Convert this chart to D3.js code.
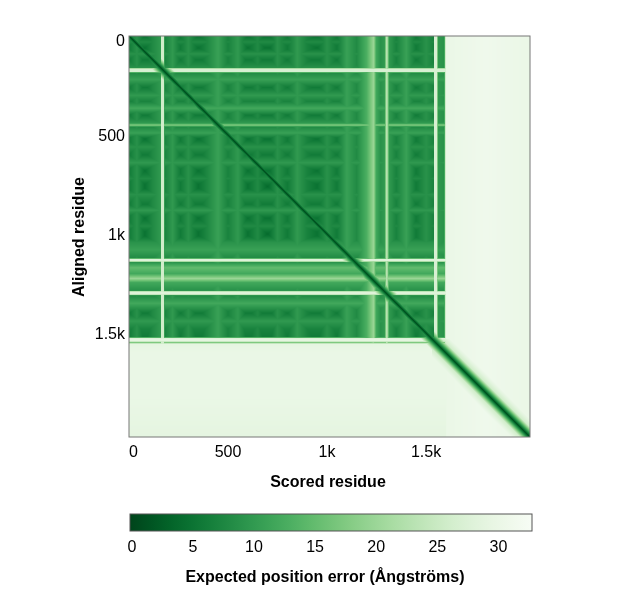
<!DOCTYPE html>
<html><head><meta charset="utf-8">
<script src="https://cdn.jsdelivr.net/npm/d3@7"></script>
<style>
body{margin:0;background:#fff;font-family:"Liberation Sans",Arial,sans-serif}
#wrap{position:relative;width:628px;height:607px}
canvas{position:absolute;left:129px;top:36px}
svg{position:absolute;left:0;top:0}
</style></head>
<body><div id="wrap"><canvas id="hm" width="401" height="401"></canvas><svg id="chart" width="628" height="607"></svg></div>
<script>
const nRes = 2025;
// expected error profile per aligned residue (rows): positions and values
const rowPos = [0,30,60,90,120,160,166,180,186,220,260,300,330,365,400,440,450,460,490,520,
  560,600,640,680,720,760,800,850,880,920,960,1000,1040,1080,1122,1127,1137,1142,1170,1200,
  1225,1245,1285,1292,1304,1311,1350,1400,1440,1480,1520,1528,1540,1548,1556,1600,1800,2025];
const rowErr = [5,8,5,9,6,9,27,27,8,11,6,10,7,12,6,10,18,8,11,5,
  9,6,10,5,8,4,9,6,10,5,8,4,9,11,8,28,28,9,15,12,
  20,12,9,28,28,8,12,6,10,7,6,29,29,17,29,30,30,29];
// expected error profile per scored residue (columns)
const colPos = [0,40,80,120,160,164,176,180,220,260,300,350,400,450,500,550,600,650,700,750,
  800,850,900,950,1000,1050,1100,1150,1200,1236,1248,1270,1290,1302,1314,1350,1400,1450,1500,1538,
  1542,1555,1560,1592,1600,1800,2025];
const colErr = [6,9,5,8,10,26,26,7,10,6,9,5,8,11,7,10,5,8,4,9,
  6,10,7,5,9,6,11,8,13,20,12,9,10,25,10,7,11,6,9,7,
  27,27,10,9,30,31,30];
const xTicks = [0, 500, 1000, 1500];
const tickLabels = ['0', '500', '1k', '1.5k'];
const cbTicks = [0, 5, 10, 15, 20, 25, 30];
const errMax = 32.75;

const size = 401;
const x = d3.scaleLinear().domain([0, nRes]).range([0, size]);
const y = d3.scaleLinear().domain([0, nRes]).range([0, size]);
const color = d3.scaleSequential(v => d3.interpolateGreens(1 - v)).domain([0, errMax]);
const rowScale = d3.scaleLinear().domain(rowPos).range(rowErr).clamp(true);
const colScale = d3.scaleLinear().domain(colPos).range(colErr).clamp(true);

const ctx = document.getElementById('hm').getContext('2d');
const img = ctx.createImageData(size, size);
for (let py = 0; py < size; py++) {
  const i = y.invert(py + 0.5);
  const r = rowScale(i);
  for (let px = 0; px < size; px++) {
    const j = x.invert(px + 0.5);
    const c = colScale(j);
    let v = Math.max(r, c);
    const d = Math.abs(i - j);
    v = Math.min(v, 1 + d * 0.5);
    if (i > 1530 && j > 1530) v = Math.min(v, 21 + d * 0.1);
    const col = d3.rgb(color(v));
    const k = (py * size + px) * 4;
    img.data[k] = col.r; img.data[k+1] = col.g; img.data[k+2] = col.b; img.data[k+3] = 255;
  }
}
ctx.putImageData(img, 0, 0);

const svg = d3.select('#chart');
const plotL = 129, plotT = 36;
svg.append('rect').attr('x', plotL).attr('y', plotT).attr('width', size).attr('height', size)
  .attr('fill', 'none').attr('stroke', '#777').attr('stroke-width', 1);

const g = svg.append('g').attr('font-size', 16).attr('fill', '#000');
g.selectAll('.xt').data(xTicks).join('text')
  .attr('x', d => plotL + x(d)).attr('y', plotT + size + 20)
  .attr('text-anchor', (d, i) => i === 0 ? 'start' : 'middle')
  .text((d, i) => tickLabels[i]);
g.selectAll('.yt').data(xTicks).join('text')
  .attr('x', plotL - 4).attr('y', d => plotT + y(d) + (d === 0 ? 10 : 6))
  .attr('text-anchor', 'end')
  .text((d, i) => tickLabels[i]);

svg.append('text').attr('x', 328).attr('y', 487).attr('text-anchor', 'middle')
  .attr('font-size', 16).attr('font-weight', 'bold').text('Scored residue');
svg.append('text').attr('transform', 'translate(84,237) rotate(-90)').attr('text-anchor', 'middle')
  .attr('font-size', 16).attr('font-weight', 'bold').text('Aligned residue');

const cbX = 130, cbW = 402, cbY = 514, cbH = 17;
const cb = d3.scaleLinear().domain([-0.15, errMax]).range([cbX, cbX + cbW]);
const grad = svg.append('defs').append('linearGradient').attr('id', 'cbg');
d3.range(0, 21).forEach(t => grad.append('stop').attr('offset', t / 20)
  .attr('stop-color', color(t / 20 * errMax)));
svg.append('rect').attr('x', cbX).attr('y', cbY).attr('width', cbW).attr('height', cbH)
  .attr('fill', 'url(#cbg)').attr('stroke', '#555');
svg.selectAll('.ct').data(cbTicks).join('text')
  .attr('x', d => cb(d)).attr('y', 552).attr('text-anchor', 'middle')
  .attr('font-size', 16).text(d => d);
svg.append('text').attr('x', 325).attr('y', 582).attr('text-anchor', 'middle')
  .attr('font-size', 16).attr('font-weight', 'bold').text('Expected position error (Ångströms)');
</script></body></html>
